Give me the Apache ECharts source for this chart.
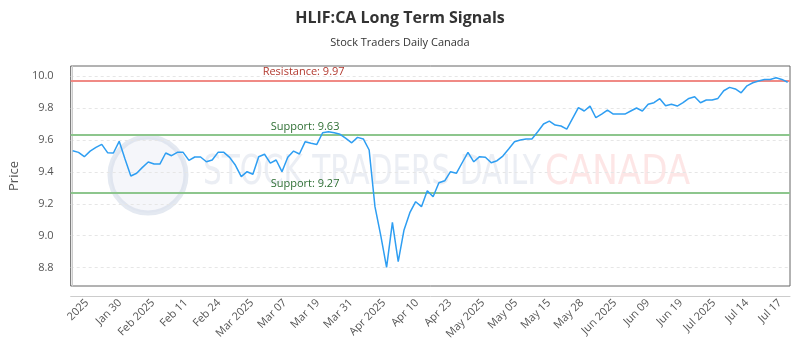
<!DOCTYPE html>
<html>
<head>
<meta charset="utf-8">
<script src="https://cdn.jsdelivr.net/npm/echarts@6/dist/echarts.min.js"></script>
<style>html,body{margin:0;padding:0;background:#fff}#c{width:800px;height:350px}</style>
</head>
<body>
<div id="c"></div>
<script>
// ---- data ----
const titleText = 'HLIF:CA Long Term Signals';
const subtitleText = 'Stock Traders Daily Canada';
const xTickLabels = ['2025','Jan 30','Feb 2025','Feb 11','Feb 24','Mar 2025','Mar 07','Mar 19','Mar 31','Apr 2025','Apr 10','Apr 23','May 2025','May 05','May 15','May 28','Jun 2025','Jun 09','Jun 19','Jul 2025','Jul 14','Jul 17'];
const yTicks = [8.8, 9.0, 9.2, 9.4, 9.6, 9.8, 10.0];
const prices = [
  9.532, 9.522, 9.495, 9.530, 9.553, 9.572, 9.520, 9.518, 9.591, 9.480,
  9.374, 9.391, 9.428, 9.462, 9.449, 9.449, 9.518, 9.501, 9.522, 9.522,
  9.472, 9.493, 9.493, 9.463, 9.474, 9.522, 9.522, 9.491, 9.441, 9.370,
  9.401, 9.385, 9.495, 9.510, 9.455, 9.474, 9.401, 9.491, 9.530, 9.512,
  9.589, 9.579, 9.572, 9.645, 9.651, 9.645, 9.635, 9.610, 9.582, 9.616,
  9.606, 9.537, 9.182, 9.000, 8.802, 9.084, 8.837, 9.036, 9.144, 9.213,
  9.182, 9.282, 9.244, 9.332, 9.344, 9.401, 9.391, 9.457, 9.522, 9.463,
  9.495, 9.491, 9.457, 9.470, 9.499, 9.543, 9.589, 9.599, 9.606, 9.606,
  9.651, 9.700, 9.718, 9.693, 9.687, 9.668, 9.735, 9.802, 9.781, 9.812,
  9.739, 9.762, 9.787, 9.762, 9.762, 9.762, 9.781, 9.800, 9.781, 9.823,
  9.833, 9.858, 9.814, 9.823, 9.812, 9.833, 9.860, 9.870, 9.833, 9.850,
  9.850, 9.860, 9.908, 9.929, 9.919, 9.895, 9.939, 9.958, 9.969, 9.979,
  9.979, 9.989, 9.979, 9.961
];
const resistance = 9.97;
const supports = [9.63, 9.27];

// ---- chart ----
const FONT = 'Open Sans';
const chart = echarts.init(document.getElementById('c'), null, {renderer: 'canvas'});
const seriesData = prices.map((v, i) => [i, v]);

const option = {
  animation: false,
  backgroundColor: '#ffffff',
  textStyle: {fontFamily: FONT},
  title: [
    {text: titleText, left: 'center', top: 5,
     textStyle: {fontFamily: FONT, fontSize: 16, fontWeight: 'bold', color: '#333'}},
    {text: subtitleText, left: 'center', top: 32,
     textStyle: {fontFamily: FONT, fontSize: 11, fontWeight: 'normal', color: '#333'}}
  ],
  graphic: [
    {type: 'circle', shape: {cx: 148, cy: 175, r: 38}, z: 0,
     style: {fill: 'rgba(225,230,240,0.35)', stroke: 'rgba(210,218,232,0.6)', lineWidth: 5}},
    {type: 'text', x: 203, y: 154, scaleX: 0.82, z: 0,
     style: {text: 'STOCK TRADERS DAILY', fontFamily: 'DejaVu Sans Condensed', fontSize: 40, fill: 'rgba(215,222,234,0.5)'}},
    {type: 'text', x: 545, y: 154, scaleX: 0.95, z: 0,
     style: {text: 'CANADA', fontFamily: 'DejaVu Sans Condensed', fontSize: 40, fill: 'rgba(250,200,200,0.45)'}}
  ],
  grid: [
    {left: 70, right: 10, top: 66, bottom: 64, show: true, borderColor: '#666', borderWidth: 1, backgroundColor: 'transparent'},
    {left: 87, right: 20, top: 66, bottom: 64, show: false}
  ],
  xAxis: [
    {type: 'value', gridIndex: 0, min: -0.35, max: 123.4,
     axisLine: {show: true, onZero: false, lineStyle: {color: '#ccc'}}, offset: 10,
     axisTick: {show: false}, axisLabel: {show: false}, splitLine: {show: false}},
    {type: 'category', gridIndex: 1, data: xTickLabels, boundaryGap: false,
     axisLine: {show: false}, axisTick: {show: false},
     axisLabel: {interval: 0, rotate: 45, margin: 15, fontSize: 11, color: '#555', fontFamily: FONT},
     splitLine: {show: false}}
  ],
  yAxis: [
    {type: 'value', gridIndex: 0, min: 8.685, max: 10.063, offset: 10,
     name: 'Price', nameLocation: 'middle', nameGap: 36,
     nameTextStyle: {fontFamily: FONT, fontSize: 13, color: '#555'},
     axisLine: {show: true, lineStyle: {color: '#ccc'}},
     axisTick: {show: false, customValues: yTicks},
     axisLabel: {customValues: yTicks, margin: 7, fontSize: 11, color: '#555', fontFamily: FONT,
                 formatter: v => v.toFixed(1)},
     splitLine: {show: true, lineStyle: {color: '#e6e6e6', type: [3, 3]}}},
    {type: 'value', gridIndex: 1, show: false}
  ],
  series: [
    {type: 'line', xAxisIndex: 0, yAxisIndex: 0, data: seriesData, showSymbol: false,
     lineStyle: {color: '#2e9ef2', width: 1.5}, z: 5,
     markLine: {
       silent: true, symbol: 'none', animation: false,
       data: [
         {yAxis: resistance, lineStyle: {color: '#f08a85', width: 2, type: 'solid'},
          label: {formatter: 'Resistance: ' + resistance.toFixed(2), position: 'insideStartTop', distance: [192, 3],
                  color: '#b23a30', fontSize: 11, fontFamily: FONT}},
         {yAxis: supports[0], lineStyle: {color: '#8dc68d', width: 2, type: 'solid'},
          label: {formatter: 'Support: ' + supports[0].toFixed(2), position: 'insideStartTop', distance: [200, 3],
                  color: '#2f6f34', fontSize: 11, fontFamily: FONT}},
         {yAxis: supports[1], lineStyle: {color: '#8dc68d', width: 2, type: 'solid'},
          label: {formatter: 'Support: ' + supports[1].toFixed(2), position: 'insideStartTop', distance: [200, 3],
                  color: '#2f6f34', fontSize: 11, fontFamily: FONT}}
       ]
     }}
  ]
};
chart.setOption(option);
</script>
</body>
</html>
